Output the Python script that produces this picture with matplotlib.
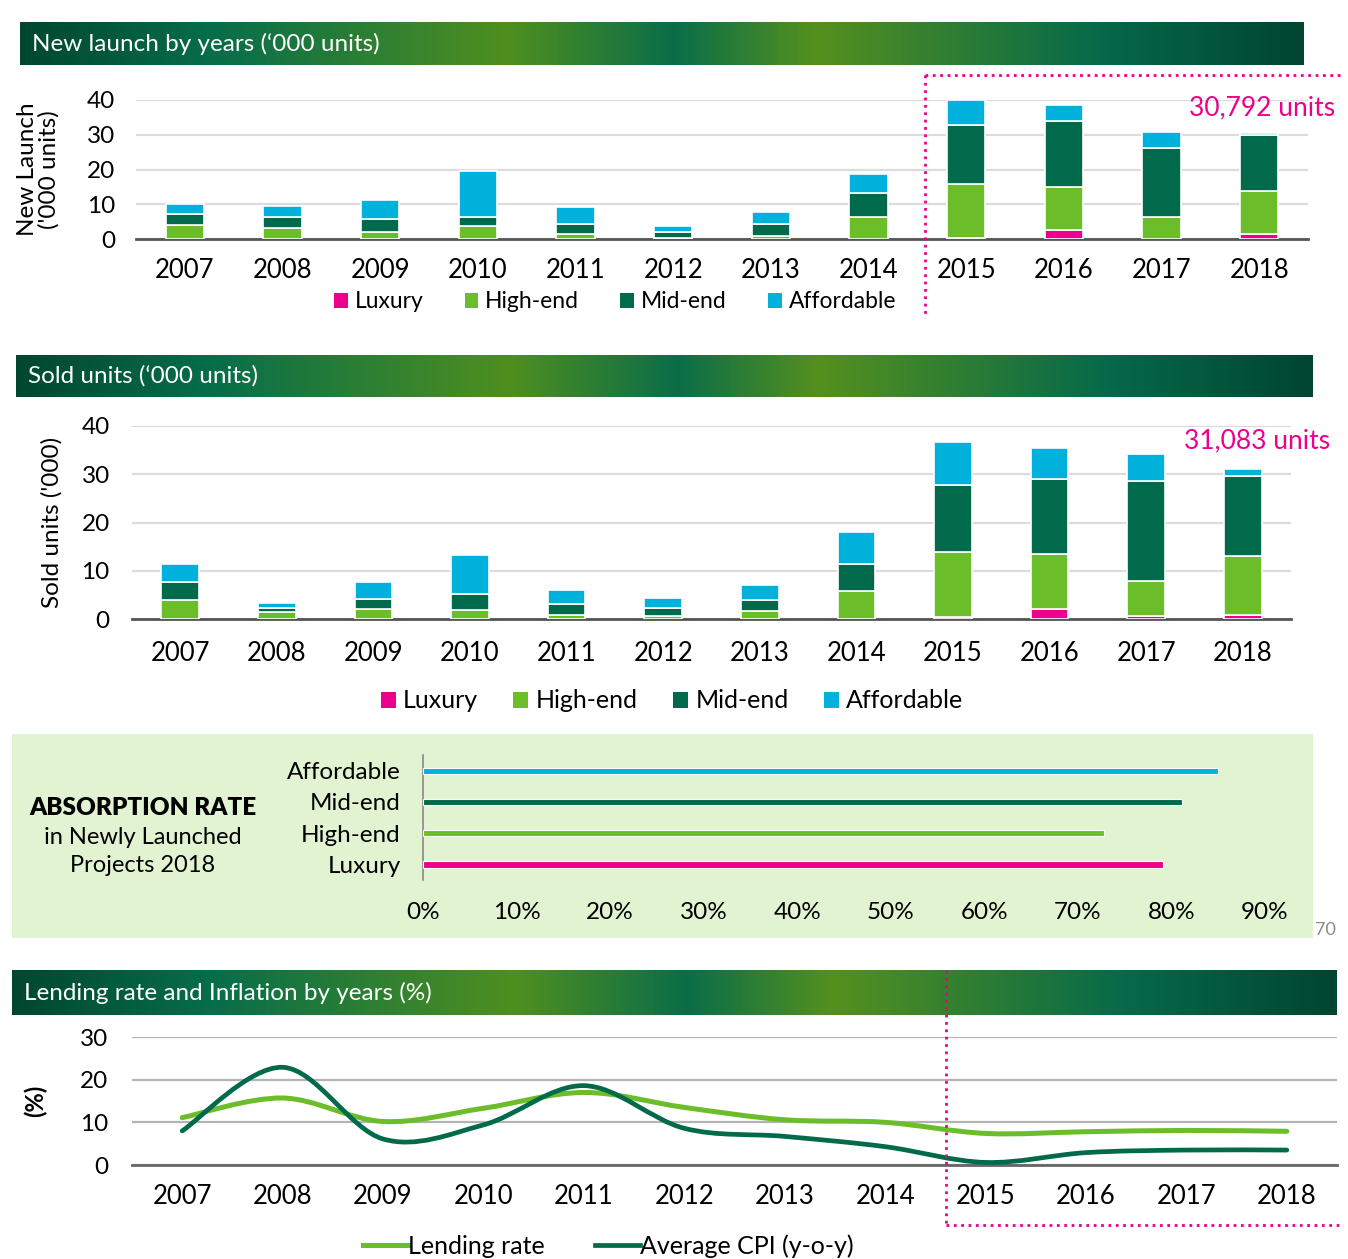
import numpy as np
import matplotlib
matplotlib.use('Agg')
import matplotlib.pyplot as plt
from matplotlib.colors import LinearSegmentedColormap
from matplotlib.patches import Rectangle, PathPatch, Patch
from matplotlib.lines import Line2D
from matplotlib.path import Path

plt.rcParams['font.family'] = ['Lato', 'DejaVu Sans']

# ---- data ----
years = ['2007', '2008', '2009', '2010', '2011', '2012',
         '2013', '2014', '2015', '2016', '2017', '2018']
segments = ['Luxury', 'High-end', 'Mid-end', 'Affordable']

launch_lux = [0, 0, 0, 0, 0, 0, 0, 0, 0.2, 2.6, 0, 1.5]
launch_high = [4.0, 3.1, 2.1, 3.6, 1.3, 0.3, 1.0, 6.4, 15.7, 12.3, 6.4, 12.3]
launch_mid = [3.1, 3.2, 3.6, 2.7, 3.0, 1.7, 3.4, 6.7, 16.8, 19.1, 19.9, 16.0]
launch_aff = [3.1, 3.2, 5.6, 13.3, 4.9, 1.8, 3.3, 5.6, 7.3, 4.7, 4.6, 0.8]

sold_lux = [0, 0, 0, 0, 0, 0, 0, 0, 0.5, 2.0, 0.6, 0.8]
sold_high = [4.0, 1.5, 2.1, 1.8, 0.8, 0.6, 1.6, 5.7, 13.3, 11.4, 7.3, 12.2]
sold_mid = [3.7, 0.7, 2.0, 3.4, 2.3, 1.7, 2.3, 5.7, 13.9, 15.7, 20.7, 16.7]
sold_aff = [3.6, 1.2, 3.6, 8.0, 2.9, 2.1, 3.1, 6.7, 8.9, 6.4, 5.6, 1.3]

absorb_cats = ['Luxury', 'High-end', 'Mid-end', 'Affordable']
absorb_vals = [0.791, 0.728, 0.811, 0.850]

lending = [11.1, 15.7, 10.2, 13.3, 17.0, 13.5, 10.6, 10.0, 7.4, 7.8, 8.1, 7.9]
cpi = [8.0, 22.9, 6.1, 9.4, 18.6, 8.6, 6.7, 4.3, 0.6, 2.9, 3.5, 3.5]

colors = {'Luxury': '#ec008c', 'High-end': '#6cbd2a',
          'Mid-end': '#006a4b', 'Affordable': '#00b1dc'}
magenta = '#ec008c'

W, H = 1348, 1259
fig = plt.figure(figsize=(W / 100, H / 100), dpi=100)
fig.patch.set_facecolor('white')


def rect(x0, y0, x1, y1):
    # pixel box (top-left origin) -> figure fraction
    return [x0 / W, 1 - y1 / H, (x1 - x0) / W, (y1 - y0) / H]


def fx(x):
    return x / W


def fy(y):
    return 1 - y / H


banner_cmap = LinearSegmentedColormap.from_list('banner', [
    (0.0, '#00472f'), (0.15, '#076e4a'), (0.38, '#4f8f1f'),
    (0.51, '#0a6d49'), (0.62, '#55901e'), (0.84, '#066a4a'),
    (1.0, '#004530')])


def banner(x0, y0, x1, y1, title):
    bax = fig.add_axes(rect(x0, y0, x1, y1))
    bax.imshow(np.linspace(0, 1, 512)[None, :], aspect='auto',
               cmap=banner_cmap, extent=(0, 1, 0, 1))
    bax.set_xlim(0, 1)
    bax.set_ylim(0, 1)
    bax.axis('off')
    bax.text(12 / (x1 - x0), 0.5, title, color='white', va='center',
             ha='left', fontsize=17.5)


def stacked(ax, lux, high, mid, aff, ypad, xpad):
    x = np.arange(len(years))
    bottom = np.zeros(len(years))
    handles = []
    for name, vals in zip(segments, [lux, high, mid, aff]):
        ax.bar(x, vals, width=0.39, bottom=bottom, color=colors[name],
               edgecolor='white', linewidth=1.2, zorder=3, label=name)
        bottom += np.array(vals)
        handles.append(Patch(facecolor=colors[name], label=name))
    ax.set_xlim(-0.5, 11.5)
    ax.set_ylim(0, 40)
    ax.set_yticks([0, 10, 20, 30, 40])
    ax.set_xticks(x)
    ax.set_xticklabels(years, fontsize=18.5)
    ax.tick_params(axis='y', labelsize=17.5, length=0, pad=ypad)
    ax.tick_params(axis='x', length=0, pad=xpad)
    ax.grid(axis='y', color='#dcdcdc', linewidth=1.6, zorder=0)
    for s in ['top', 'right', 'left']:
        ax.spines[s].set_visible(False)
    ax.spines['bottom'].set_color('#555555')
    ax.spines['bottom'].set_linewidth(2)
    ax.set_facecolor('none')
    return handles


# ---- panel 1: new launch ----
banner(20, 22, 1304, 65, "New launch by years (\u2018000 units)")
ax1 = fig.add_axes(rect(136, 100, 1308, 239))
h1 = stacked(ax1, launch_lux, launch_high, launch_mid, launch_aff, 15, 14)
ax1.set_ylabel("New Launch\n('000 units)", fontsize=17.5, labelpad=20,
               linespacing=0.95)
fig.legend(handles=h1, loc='center', bbox_to_anchor=(fx(615), fy(302)),
           ncol=4, frameon=False, fontsize=16.5, handlelength=0.6,
           handleheight=0.6, handletextpad=0.3, columnspacing=1.8)
fig.text(fx(1335), fy(108), '30,792 units', color=magenta, fontsize=19,
         ha='right', va='center')
fig.add_artist(Line2D([fx(925), fx(1340)], [fy(75), fy(75)], color=magenta,
                      linestyle=':', linewidth=2))
fig.add_artist(Line2D([fx(925), fx(925)], [fy(75), fy(318)], color=magenta,
                      linestyle=':', linewidth=2))

# ---- panel 2: sold units ----
banner(16, 355, 1313, 397, "Sold units (\u2018000 units)")
ax2 = fig.add_axes(rect(132, 426, 1291, 619))
h2 = stacked(ax2, sold_lux, sold_high, sold_mid, sold_aff, 16, 16)
ax2.set_ylabel("Sold units ('000)", fontsize=17.5, labelpad=14)
fig.legend(handles=h2, loc='center', bbox_to_anchor=(fx(672), fy(701)),
           ncol=4, frameon=False, fontsize=18, handlelength=0.6,
           handleheight=0.6, handletextpad=0.3, columnspacing=1.4)
fig.text(fx(1330), fy(441), '31,083 units', color=magenta, fontsize=19,
         ha='right', va='center')

# ---- panel 3: absorption ----
fig.patches.append(Rectangle((fx(12), fy(938)), (1313 - 12) / W,
                             (938 - 734) / H, transform=fig.transFigure,
                             facecolor='#e2f3d2', edgecolor='none',
                             zorder=-5))
ax3 = fig.add_axes(rect(423, 755, 1265, 880))
ax3.set_zorder(2)
ypos = np.arange(len(absorb_cats))
for yp, name, v in zip(ypos, absorb_cats, absorb_vals):
    ax3.barh(yp, v, height=0.2, color=colors[name], edgecolor='white',
             linewidth=0.8, zorder=3)
ax3.set_xlim(0, 0.9)
ax3.set_ylim(-0.5, 3.5)
ax3.set_yticks(ypos)
ax3.set_yticklabels(absorb_cats, fontsize=17.5)
ticks = np.arange(0, 0.91, 0.1)
ax3.set_xticks(ticks)
ax3.set_xticklabels(['%d%%' % round(t * 100) for t in ticks], fontsize=17.5)
ax3.tick_params(axis='x', length=0, pad=16)
ax3.tick_params(axis='y', length=0, pad=16)
for s in ['top', 'right', 'bottom']:
    ax3.spines[s].set_visible(False)
ax3.spines['left'].set_color('#888888')
ax3.spines['left'].set_linewidth(1.2)
ax3.set_facecolor('none')
fig.text(fx(143), fy(808), 'ABSORPTION RATE', fontsize=17.5,
         fontweight='heavy', ha='center', va='center')
fig.text(fx(143), fy(837), 'in Newly Launched', fontsize=17, ha='center',
         va='center')
fig.text(fx(143), fy(865), 'Projects 2018', fontsize=17, ha='center',
         va='center')
fig.text(fx(1325), fy(930), '70', fontsize=13, color='#8a8a8a', ha='center',
         va='center')

# ---- panel 4: lending rate and CPI ----
banner(12, 970, 1337, 1015, "Lending rate and Inflation by years (%)")
ax4 = fig.add_axes(rect(132, 1037, 1337, 1165))


def smooth_path(xs, ys):
    pts = np.column_stack([xs, ys]).astype(float)
    n = len(pts)
    verts = [pts[0]]
    codes = [Path.MOVETO]
    for i in range(n - 1):
        p0 = pts[max(i - 1, 0)]
        p1 = pts[i]
        p2 = pts[i + 1]
        p3 = pts[min(i + 2, n - 1)]
        verts += [p1 + (p2 - p0) / 6, p2 - (p3 - p1) / 6, p2]
        codes += [Path.CURVE4] * 3
    return Path(verts, codes)


xl = np.arange(len(years))
ax4.add_patch(PathPatch(smooth_path(xl, lending), fill=False,
                        edgecolor='#6cbd2a', linewidth=3.6, zorder=3,
                        capstyle='round'))
ax4.add_patch(PathPatch(smooth_path(xl, cpi), fill=False,
                        edgecolor='#006a4b', linewidth=3.4, zorder=4,
                        capstyle='round'))
ax4.set_xlim(-0.5, 11.5)
ax4.set_ylim(0, 30)
ax4.set_yticks([0, 10, 20, 30])
ax4.set_xticks(xl)
ax4.set_xticklabels(years, fontsize=18.5)
ax4.tick_params(axis='y', labelsize=17.5, length=0, pad=17)
ax4.tick_params(axis='x', length=0, pad=14)
ax4.grid(axis='y', color='#b3b3b3', linewidth=1.6, zorder=0)
for s in ['top', 'right', 'left']:
    ax4.spines[s].set_visible(False)
ax4.spines['bottom'].set_color('#666666')
ax4.spines['bottom'].set_linewidth(2)
ax4.set_facecolor('none')
ax4.set_ylabel('(%)', fontsize=17, fontweight='bold', labelpad=24)
line_handles = [Line2D([], [], color='#6cbd2a', linewidth=3.6,
                       label='Lending rate'),
                Line2D([], [], color='#006a4b', linewidth=3.4,
                       label='Average CPI (y-o-y)')]
fig.legend(handles=line_handles, loc='center',
           bbox_to_anchor=(fx(608), fy(1246)), ncol=2, frameon=False,
           fontsize=18, handlelength=1.8, handletextpad=0.0,
           columnspacing=2.0)
fig.add_artist(Line2D([fx(946), fx(946)], [fy(970), fy(1225)], color=magenta,
                      linestyle=':', linewidth=2))
fig.add_artist(Line2D([fx(946), fx(1340)], [fy(1225), fy(1225)],
                      color=magenta, linestyle=':', linewidth=2))

fig.savefig('out.png', dpi=100)
